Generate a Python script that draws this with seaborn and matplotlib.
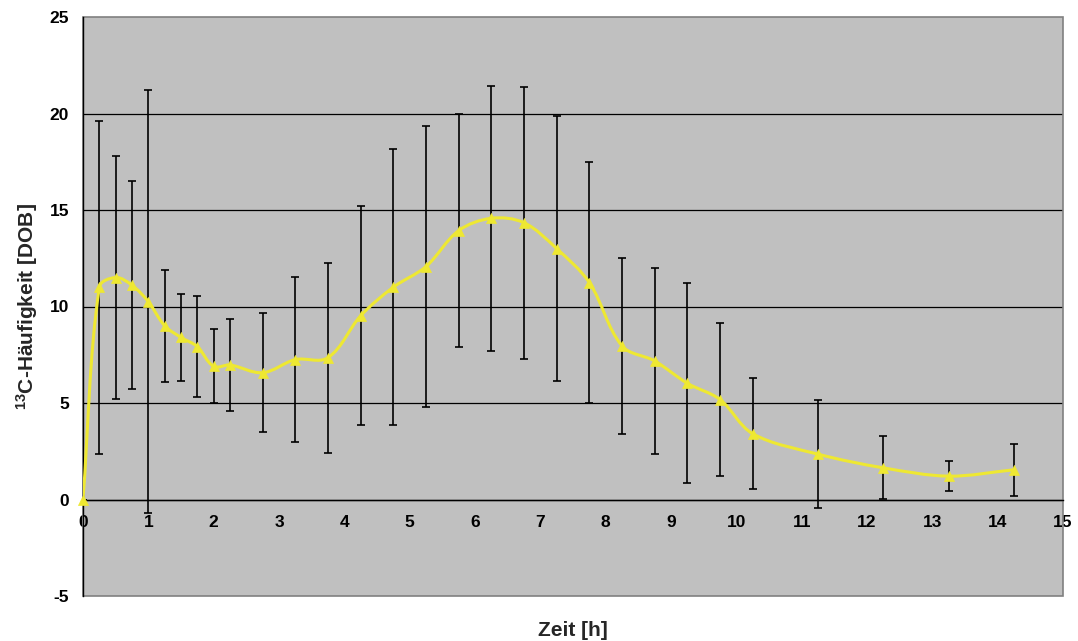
import numpy as np
import pandas as pd
import matplotlib
matplotlib.use("Agg")
import matplotlib.pyplot as plt
import seaborn as sns
from matplotlib.path import Path
from matplotlib.patches import PathPatch, Rectangle

# ---- data ----
zeit = [0, 0.25, 0.5, 0.75, 1.0, 1.25, 1.5, 1.75, 2.0, 2.25, 2.75, 3.25, 3.75,
        4.25, 4.75, 5.25, 5.75, 6.25, 6.75, 7.25, 7.75, 8.25, 8.75, 9.25, 9.75,
        10.25, 11.25, 12.25, 13.25, 14.25]
dob = [0.0, 11.0, 11.5, 11.1, 10.25, 9.0, 8.4, 7.92, 6.9, 6.97, 6.57, 7.25, 7.35,
       9.52, 11.0, 12.07, 13.93, 14.57, 14.34, 13.0, 11.24, 7.96, 7.18, 6.02, 5.18,
       3.41, 2.35, 1.64, 1.21, 1.54]
sd = [0.0, 8.62, 6.28, 5.39, 10.95, 2.91, 2.25, 2.63, 1.91, 2.39, 3.07, 4.28, 4.92,
      5.67, 7.14, 7.30, 6.04, 6.86, 7.04, 6.87, 6.24, 4.55, 4.83, 5.19, 3.97,
      2.88, 2.78, 1.63, 0.79, 1.36]
x_ticks = list(range(0, 16))
y_ticks = [-5, 0, 5, 10, 15, 20, 25]

df = pd.DataFrame({"Zeit": zeit, "DOB": dob, "SD": sd})

sns.set_style("white")
plt.rcParams["font.family"] = ["Liberation Sans", "DejaVu Sans"]
plt.rcParams["font.weight"] = "bold"
plt.rcParams["mathtext.fontset"] = "custom"
plt.rcParams["mathtext.rm"] = "Liberation Sans:bold"
plt.rcParams["mathtext.bf"] = "Liberation Sans:bold"
plt.rcParams["mathtext.it"] = "Liberation Sans:bold"

W, H = 1078, 641
fig = plt.figure(figsize=(W / 100, H / 100), dpi=100)
ax = fig.add_axes([83 / W, (H - 596) / H, 980 / W, 579 / H])

bg = "#C0C0C0"
yellow = "#EEE832"
ax.set_facecolor(bg)
ax.set_xlim(0, 15)
ax.set_ylim(-5, 25)

# error bars
ax.errorbar(df["Zeit"], df["DOB"], yerr=df["SD"], fmt="none", ecolor="black",
            elinewidth=1.2, capsize=2.6, capthick=1.2, zorder=3)

# smoothed line (Excel-style Bezier through the data points, built in screen space)
P = ax.transData.transform(np.column_stack([zeit, dob]))
n = len(P)


def unit(v):
    nv = np.hypot(*v)
    return v / nv if nv > 0 else v


verts = [P[0]]
codes = [Path.MOVETO]
for i in range(n - 1):
    p0 = P[i - 1] if i > 0 else P[i]
    p1 = P[i]
    p2 = P[i + 1]
    p3 = P[i + 2] if i + 2 < n else P[i + 1]
    d = np.hypot(*(p2 - p1))
    c1 = p1 + unit(p2 - p0) * d / 3.0
    c2 = p2 - unit(p3 - p1) * d / 3.0
    verts += [c1, c2, p2]
    codes += [Path.CURVE4] * 3
verts = ax.transData.inverted().transform(np.array(verts))
ax.add_patch(PathPatch(Path(verts, codes), facecolor="none", edgecolor=yellow,
                       lw=2.2, zorder=4, capstyle="round", joinstyle="round"))

# markers
sns.scatterplot(data=df, x="Zeit", y="DOB", marker="^", s=52, color=yellow,
                edgecolor=yellow, linewidth=0.5, ax=ax, zorder=5, legend=False,
                clip_on=False)

ax.set_xlim(0, 15)
ax.set_ylim(-5, 25)
ax.set_xlabel("")
ax.set_ylabel("")

# axes lines
for s in ["top", "right"]:
    ax.spines[s].set_visible(False)
ax.spines["left"].set_color("black")
ax.spines["left"].set_linewidth(1.0)
ax.spines["bottom"].set_position(("data", 0))
ax.spines["bottom"].set_color("black")
ax.spines["bottom"].set_linewidth(1.0)

ax.set_xticks(x_ticks)
ax.set_yticks(y_ticks)
ax.set_xticklabels([str(t) for t in x_ticks])
ax.set_yticklabels([str(t) for t in y_ticks])
ax.tick_params(axis="both", direction="out", length=5, width=1, color="black",
               labelcolor="black", labelsize=12.5)
ax.tick_params(axis="x", pad=6)
ax.tick_params(axis="y", pad=5)
for lab in ax.get_xticklabels() + ax.get_yticklabels():
    lab.set_fontweight("bold")

ax.add_patch(Rectangle((0, 0), 1, 1, transform=ax.transAxes, fill=False,
                       edgecolor="#808080", lw=1.2, zorder=1, clip_on=False))

# horizontal gridlines
ax.grid(axis="y", color="black", lw=0.9)
ax.grid(axis="x", visible=False)
gl = ax.get_ygridlines()
gl[0].set_visible(False)
gl[-1].set_visible(False)
ax.set_axisbelow(True)

fig.text(573 / W, 1 - 630 / H, "Zeit [h]", ha="center", va="center",
         fontsize=15, fontweight="bold")
fig.text(27 / W, 1 - 307 / H, r"$^{13}$C-Häufigkeit [DOB]", ha="center",
         va="center", rotation=90, fontsize=15, fontweight="bold")

fig.savefig("out.png", dpi=100, facecolor="white")
